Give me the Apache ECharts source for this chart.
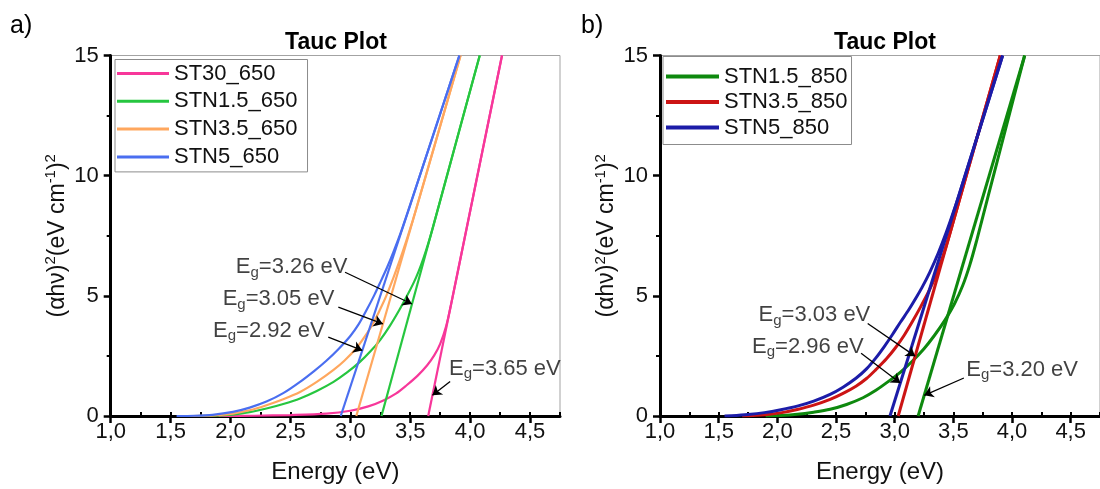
<!DOCTYPE html>
<html>
<head>
<meta charset="utf-8">
<script src="https://cdn.jsdelivr.net/npm/echarts@6/dist/echarts.min.js"></script>
<style>
  html, body { margin: 0; padding: 0; background: #ffffff; }
  #chart { width: 1100px; height: 489px; }
</style>
</head>
<body>
<div id="chart"></div>
<script>
// ---- axis ticks -------------------------------------------------------
const energyTicks = [1.0, 1.5, 2.0, 2.5, 3.0, 3.5, 4.0, 4.5];
const energyRange = [1.0, 4.75];
const tauRange = [0, 15];

// ---- panel a: samples annealed at 650 °C --------------------------------
const namesA = ['ST30_650', 'STN1.5_650', 'STN3.5_650', 'STN5_650'];
// (E [eV], (αhν)²) measured curves
const st30_650 = [[1.9,0],[2.2,0.01],[2.5,0.04],[2.8,0.1],[3.0,0.22],[3.15,0.4],[3.276,0.65],[3.38,0.93],[3.47,1.28],[3.56,1.67],[3.64,2.1],[3.7,2.52],[3.75,3.0],[3.8,3.745],[3.835,4.5],[3.95,7.3],[4.1,10.96],[4.266,15]];
const stn15_650 = [[1.6,0],[1.8,0.01],[2.02,0.06],[2.16,0.16],[2.3,0.31],[2.44,0.5],[2.58,0.73],[2.72,1.04],[2.86,1.42],[2.97,1.8],[3.08,2.25],[3.17,2.7],[3.25,3.17],[3.33,3.75],[3.41,4.42],[3.47,4.97],[3.53,5.56],[3.57,6.02],[3.61,6.56],[3.65,7.17],[3.69,7.86],[3.85,10.79],[3.97,12.99],[4.08,15]];
const stn35_650 = [[1.6,0],[1.75,0.01],[1.9,0.04],[2.02,0.1],[2.16,0.24],[2.3,0.45],[2.44,0.7],[2.58,1.0],[2.72,1.42],[2.86,1.92],[2.95,2.3],[3.05,2.82],[3.12,3.3],[3.19,3.85],[3.25,4.45],[3.3,5.0],[3.36,5.76],[3.41,6.44],[3.47,7.33],[3.52,8.12],[3.563,8.84],[3.7,11.2],[3.81,13.1],[3.92,15]];
const stn5_650 = [[1.55,0],[1.7,0.01],[1.85,0.05],[2.02,0.17],[2.16,0.35],[2.3,0.6],[2.44,0.95],[2.58,1.42],[2.7,1.88],[2.8,2.3],[2.9,2.78],[3.0,3.33],[3.07,3.82],[3.14,4.45],[3.2,5.03],[3.25,5.56],[3.31,6.22],[3.36,6.83],[3.42,7.62],[3.49,8.64],[3.6,10.3],[3.75,12.57],[3.91,15]];
// band gaps (x-intercepts of the linear fits) and the energy where each fit reaches the top
const gapA = [3.65, 3.26, 3.05, 2.92];
const fitTopA = [4.266, 4.08, 3.92, 3.91];
const colorsA = ['#f7379a', '#26c63f', '#ffa75e', '#4a6ef0'];

// ---- panel b: samples annealed at 850 °C --------------------------------
const namesB = ['STN1.5_850', 'STN3.5_850', 'STN5_850'];
const stn15_850 = [[1.9,0],[2.03,0.02],[2.17,0.07],[2.31,0.16],[2.45,0.28],[2.59,0.48],[2.73,0.76],[2.84,1.07],[2.95,1.45],[3.05,1.83],[3.15,2.28],[3.25,2.8],[3.34,3.36],[3.43,4.0],[3.51,4.67],[3.58,5.43],[3.64,6.28],[3.696,7.25],[3.8,9.21],[3.95,12.03],[4.108,15]];
const stn35_850 = [[1.7,0],[1.9,0.05],[2.04,0.14],[2.17,0.27],[2.31,0.45],[2.45,0.69],[2.56,0.94],[2.67,1.24],[2.76,1.56],[2.84,1.93],[2.93,2.38],[3.01,2.86],[3.08,3.35],[3.15,3.92],[3.22,4.53],[3.29,5.18],[3.35,5.83],[3.41,6.63],[3.471,7.6],[3.6,9.83],[3.75,12.41],[3.9,15]];
const stn5_850 = [[1.55,0],[1.61,0.01],[1.75,0.06],[1.89,0.14],[2.03,0.26],[2.17,0.41],[2.31,0.62],[2.45,0.9],[2.56,1.2],[2.67,1.57],[2.76,1.96],[2.84,2.42],[2.91,2.88],[2.98,3.38],[3.05,3.91],[3.12,4.42],[3.18,4.9],[3.23,5.32],[3.3,5.99],[3.37,6.76],[3.44,7.64],[3.51,8.62],[3.552,9.25],[3.65,10.78],[3.78,12.81],[3.92,15]];
const gapB = [3.20, 3.03, 2.96];
const fitTopB = [4.108, 3.90, 3.92];
const colorsB = ['#0e890e', '#cc1414', '#1c1ca8'];

// ---- band-gap call-outs: which fit, label anchor, arrow tail, arrow-head height
const calloutFitA = [1, 2, 3, 0];
const calloutTextA = [[2.04, 6.2], [1.93, 4.87], [1.85, 3.56], [3.82, 1.97]];
const calloutTailA = [[2.956, 5.98], [2.90, 4.53], [2.816, 3.28], [3.833, 1.44]];
const calloutHeadYA = [4.66, 3.83, 2.73, 0.86];

const calloutFitB = [1, 2, 0];
const calloutTextB = [[1.836, 4.2], [1.78, 2.89], [3.606, 1.92]];
const calloutTailB = [[2.77, 3.85], [2.714, 2.61], [3.59, 1.58]];
const calloutHeadYB = [2.49, 1.37, 0.86];

const FONT = '"Liberation Sans", Arial, sans-serif';
const comma = v => v.toFixed(1).replace('.', ',');

function fitLine(gap, top) { return [[gap, 0], [top, tauRange[1]]]; }
function fitX(gap, top, y) { return gap + y * (top - gap) / tauRange[1]; }

function xAxes(gi) {
  return [
    {
      gridIndex: gi, type: 'value', min: energyRange[0], max: energyRange[1],
      interval: 0.5,
      axisLine: { show: true, onZero: false, lineStyle: { color: '#000', width: 3 } },
      axisTick: { show: true, customValues: energyTicks, length: 7, lineStyle: { color: '#000', width: 2.5 } },
      axisLabel: { customValues: energyTicks, formatter: comma, color: '#111', fontSize: 22, fontFamily: FONT, margin: 5 },
      splitLine: { show: false },
      name: 'Energy (eV)', nameLocation: 'middle', nameGap: 44,
      nameTextStyle: { color: '#111', fontSize: 24, fontFamily: FONT }
    },
    {
      gridIndex: gi, type: 'value', min: energyRange[0], max: energyRange[1],
      interval: 0.25,
      axisLine: { show: false },
      axisTick: { show: true, length: 4, lineStyle: { color: '#000', width: 2 } },
      axisLabel: { show: false },
      splitLine: { show: false }
    }
  ];
}

function yAxis(gi) {
  return {
    gridIndex: gi, type: 'value', min: tauRange[0], max: tauRange[1], interval: 5,
    axisLine: { show: true, onZero: false, lineStyle: { color: '#000', width: 3 } },
    axisTick: { show: true, length: 7, lineStyle: { color: '#000', width: 2.5 } },
    minorTick: { show: true, splitNumber: 2, length: 4, lineStyle: { color: '#000', width: 2 } },
    axisLabel: { color: '#111', fontSize: 22, fontFamily: FONT, margin: 12 },
    splitLine: { show: false },
    name: '{t|(αhν)}{s|2}{t|(eV cm}{s|-1}{t|)}{s|2}',
    nameLocation: 'middle', nameGap: 40,
    nameTextStyle: {
      rich: {
        t: { fontSize: 23, fontFamily: FONT, color: '#111', lineHeight: 27 },
        s: { fontSize: 15, fontFamily: FONT, color: '#111', lineHeight: 15, verticalAlign: 'top' }
      }
    }
  };
}

function panelSeries(gi, names, curves, gaps, tops, colors, width) {
  const out = [];
  names.forEach((name, i) => {
    const common = {
      name, type: 'line', xAxisIndex: gi * 2, yAxisIndex: gi,
      symbol: 'none', lineStyle: { color: colors[i], width }, itemStyle: { color: colors[i] },
      silent: true
    };
    out.push(Object.assign({}, common, { data: curves[i], smooth: 0.3 }));
    out.push(Object.assign({}, common, { data: fitLine(gaps[i], tops[i]) }));
  });
  return out;
}

function calloutSeries(gi, fitIdx, textPos, tail, headY, gaps, tops) {
  return {
    type: 'scatter', xAxisIndex: gi * 2, yAxisIndex: gi, silent: true, z: 10,
    symbolSize: 1, itemStyle: { color: 'rgba(0,0,0,0)' },
    data: fitIdx.map((k, i) => ({
      value: textPos[i],
      label: {
        show: true, position: 'right', distance: 0,
        formatter: '{e|E}{g|g}{e|=' + gaps[k].toFixed(2) + ' eV}',
        rich: {
          e: { fontSize: 22, fontFamily: FONT, color: '#111', lineHeight: 26 },
          g: { fontSize: 15, fontFamily: FONT, color: '#111', lineHeight: 15, verticalAlign: 'bottom' }
        }
      }
    })),
    markLine: {
      silent: true, symbol: ['none', 'arrow'], symbolSize: 9,
      label: { show: false },
      lineStyle: { color: '#000', width: 1.3, type: 'solid' },
      data: fitIdx.map((k, i) => [
        { coord: tail[i] },
        { coord: [fitX(gaps[k], tops[k], headY[i]), headY[i]] }
      ])
    }
  };
}

const chart = echarts.init(document.getElementById('chart'), null, { renderer: 'canvas' });

const gridStyle = { show: true, borderColor: '#a3a3a3', borderWidth: 1, backgroundColor: '#fff' };

const option = {
  animation: false,
  backgroundColor: '#ffffff',
  grid: [
    Object.assign({ left: 110.7, top: 55.5, width: 449.3, height: 362 }, gridStyle),
    Object.assign({ left: 660, top: 55.5, width: 448.5, height: 362 }, gridStyle)
  ],
  xAxis: xAxes(0).concat(xAxes(1)),
  yAxis: [yAxis(0), yAxis(1)],
  legend: [
    {
      data: namesA, orient: 'vertical', left: 115, top: 59.5,
      icon: 'rect', itemWidth: 52, itemHeight: 3, itemGap: 5.8,
      padding: [3, 10, 4, 2],
      backgroundColor: '#fff', borderColor: '#8c8c8c', borderWidth: 1,
      textStyle: { fontSize: 22, fontFamily: FONT, color: '#111', lineHeight: 22 },
      selectedMode: false
    },
    {
      data: namesB, orient: 'vertical', left: 663, top: 56.5,
      icon: 'rect', itemWidth: 53, itemHeight: 4, itemGap: 3.5,
      padding: [9, 4, 6, 3],
      backgroundColor: '#fff', borderColor: '#8c8c8c', borderWidth: 1,
      textStyle: { fontSize: 22, fontFamily: FONT, color: '#111', lineHeight: 22 },
      selectedMode: false
    }
  ],
  graphic: [
    { type: 'text', x: 336, y: 43, style: { text: 'Tauc Plot', textAlign: 'center', textVerticalAlign: 'middle', font: 'bold 23px ' + FONT, fill: '#000' } },
    { type: 'text', x: 885, y: 43, style: { text: 'Tauc Plot', textAlign: 'center', textVerticalAlign: 'middle', font: 'bold 23px ' + FONT, fill: '#000' } },
    { type: 'text', x: 10, y: 26, style: { text: 'a)', textAlign: 'left', textVerticalAlign: 'middle', font: '25px ' + FONT, fill: '#000' } },
    { type: 'text', x: 581, y: 26, style: { text: 'b)', textAlign: 'left', textVerticalAlign: 'middle', font: '25px ' + FONT, fill: '#000' } }
  ],
  series: []
    .concat(panelSeries(0, namesA, [st30_650, stn15_650, stn35_650, stn5_650], gapA, fitTopA, colorsA, 2.2))
    .concat(panelSeries(1, namesB, [stn15_850, stn35_850, stn5_850], gapB, fitTopB, colorsB, 3))
    .concat([
      calloutSeries(0, calloutFitA, calloutTextA, calloutTailA, calloutHeadYA, gapA, fitTopA),
      calloutSeries(1, calloutFitB, calloutTextB, calloutTailB, calloutHeadYB, gapB, fitTopB)
    ])
};

chart.setOption(option);
</script>
</body>
</html>
